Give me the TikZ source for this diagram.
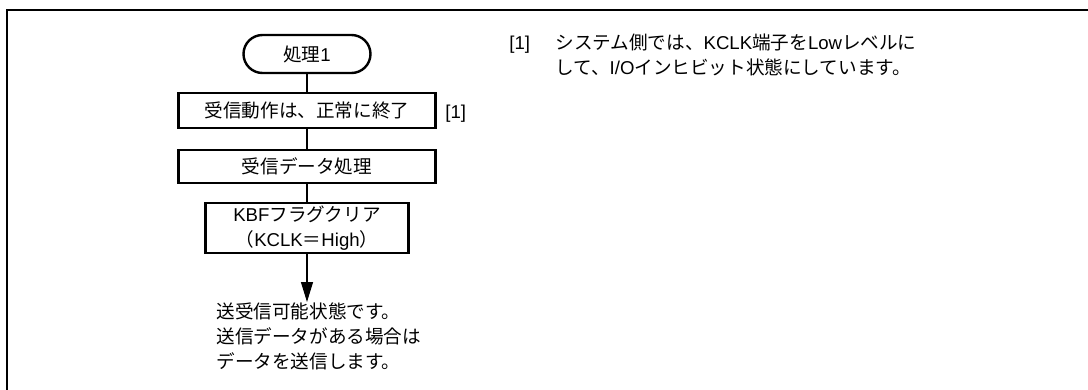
\documentclass[tikz,border=0pt]{standalone}
\usepackage{fontspec}
\setmainfont{Noto Sans CJK JP}
\newfontfamily\latinfont{Liberation Sans}
\newcommand{\lt}[1]{{\latinfont #1}}
\usetikzlibrary{arrows.meta, positioning}

\begin{document}
\begin{tikzpicture}[x=0.5pt, y=-0.5pt,
  proc/.style={rectangle, draw=black, line width=1.2pt, fill=white, minimum width=128.5pt, minimum height=17.5pt, inner sep=0pt, font=\fontsize{9.3}{12.5}\selectfont, align=center},
  term/.style={proc, rounded corners=9.5pt, minimum width=63.5pt, minimum height=19pt},
  kbfst/.style={proc, minimum width=101.5pt, minimum height=25pt},
  line/.style={line width=0.6pt},
  arr/.style={line, -{Triangle[length=10pt, width=6pt]}},
  lbl/.style={font=\fontsize{9.3}{12.5}\selectfont, inner sep=0pt, align=left},
]
\useasboundingbox (0,0) rectangle (1088,390);
\draw[line width=1pt] (7,392) -- (7,10) -- (1090,10);

\node[term]  (start) at (307,54)    {処理\lt{1}};
\node[proc]  (done)  at (307,110.5) {受信動作は、正常に終了};
\node[proc, minimum height=16.5pt] (recv) at (307,166.5) {受信データ処理};
\node[kbfst] (kbf)   at (307,228)   {\lt{KBF}フラグクリア\\（\lt{KCLK}＝\lt{High}）};

\node[lbl, anchor=west] (mark) at (445,114) {\lt{[1]}};
\node[lbl, anchor=north west, align=left] (msg) at (216,302) {送受信可能状態です。\\送信データがある場合は\\データを送信します。};

\node[lbl, anchor=west] (notemark) at (509,45) {\lt{[1]}};
\node[lbl, anchor=north west, align=left] (note) at (555,34) {システム側では、\lt{KCLK}端子を\lt{Low}レベルに\\して、\lt{I/O}インヒビット状態にしています。};

\draw[line] (start) -- (done);
\draw[line] (done) -- (recv);
\draw[line] (recv) -- (kbf);
\draw[arr] (kbf) -- (kbf |- msg.north);
\end{tikzpicture}
\end{document}
